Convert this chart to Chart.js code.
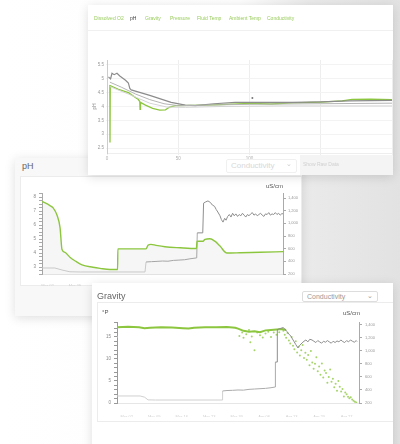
<!DOCTYPE html>
<html>
<head>
<meta charset="utf-8">
<script src="https://cdn.jsdelivr.net/npm/chart.js"></script>
<style>
html, body { margin: 0; padding: 0; }
body {
    width: 400px; height: 444px; overflow: hidden; position: relative;
    background: linear-gradient(90deg, #ffffff 0%, #fdfdfd 60%, #eaeaea 77%, #e2e2e2 100%);
    font-family: "Liberation Sans", Arial, sans-serif;
}
.card { position: absolute; background: #fff; overflow: hidden; box-shadow: 0 2px 10px rgba(0,0,0,0.13); }
#card1 { left: 88px; top: 5px; width: 305px; height: 170px; z-index: 2; }
#card2 { left: 15px; top: 158px; width: 287px; height: 158px; z-index: 1; background: #f8f8f8; }
#card3 { left: 92px; top: 283px; width: 301px; height: 170px; z-index: 3; }
canvas { position: absolute; }
.tabs { position: absolute; left: 0; top: 0; width: 305px; height: 25px; border-bottom: 1px solid #f0f0f0; }
.tabs span { position: absolute; top: 10px; font-size: 5px; color: #9acd5e; white-space: nowrap; }
.tabs span.on { color: #444; }
.title { position: absolute; font-size: 9px; color: #666; }
.box { position: absolute; background: #fff; border: 1px solid #ececec; }
.unit { position: absolute; font-size: 6px; color: #555; text-align: right; width: 30px; }
.sel { position: absolute; border: 1px solid #ddd; border-radius: 2px; font-size: 7px; color: #999; box-sizing: border-box; padding: 1px 4px; background: #fff; }
.sel b { position: absolute; right: 4px; top: 0; font-weight: normal; font-size: 7px; }
</style>
</head>
<body>

<div class="card" id="card2">
    <div class="title" style="left:7px;top:3px;">pH</div>
    <div class="box" style="left:5px;top:18px;width:280px;height:108px;"></div>
    <canvas id="ph" width="287" height="110" style="left:0;top:18px;"></canvas>
    <div class="unit" style="left:238px;top:25px;">uS/cm</div>
</div>

<div class="card" id="card1">
    <div class="tabs">
        <span style="left:6px;">Dissolved O2</span>
        <span class="on" style="left:42px;">pH</span>
        <span style="left:57px;">Gravity</span>
        <span style="left:82px;">Pressure</span>
        <span style="left:109px;">Fluid Temp</span>
        <span style="left:141px;">Ambient Temp</span>
        <span style="left:179px;">Conductivity</span>
    </div>
    <canvas id="top" width="330" height="125" style="left:0;top:35px;"></canvas>
    <div class="sel" style="left:138px;top:154px;width:71px;height:14px;color:#d8d8d8;border-color:#f0f0f0;font-size:8px;">Conductivity<b style="color:#ccc;">&#8964;</b></div>
    <div style="position:absolute;left:212px;top:150px;width:93px;height:20px;background:#f4f4f4;"></div>
    <div style="position:absolute;left:215px;top:156px;font-size:5px;color:#d0d0d0;">Show Raw Data</div>
</div>

<div class="card" id="card3">
    <div class="title" style="left:5px;top:8px;">Gravity</div>
    <div class="sel" style="left:210px;top:8px;width:76px;height:11px;">Conductivity<b>&#8964;</b></div>
    <div class="box" style="left:5px;top:19px;width:295px;height:118px;"></div>
    <canvas id="grav" width="301" height="112" style="left:0;top:22px;"></canvas>
    <div class="unit" style="left:10px;top:26px;text-align:left;">°P</div>
    <div class="unit" style="left:238px;top:27px;">uS/cm</div>
</div>

<script>
// ---- top card: pH overview ----
const topXTicks = [0, 50, 100, 150, 200];
const topYTicks = [2.5, 3, 3.5, 4, 4.5, 5, 5.5];
const topGreenX = [2, 2.1, 2.3, 8, 15, 22, 23, 23.2, 23.5, 27, 32, 37, 41, 44, 48, 60, 80, 100, 115, 130, 150, 165, 172, 185, 200];
const topGreenY = [4.78, 2.7, 4.75, 4.62, 4.5, 4.25, 4.18, 3.9, 4.15, 4.05, 3.93, 3.87, 3.88, 3.98, 4.03, 4.04, 4.07, 4.11, 4.09, 4.13, 4.16, 4.2, 4.26, 4.27, 4.25];
const topDarkX = [1, 2.5, 3.5, 5, 7, 9, 13, 15, 16, 17, 30, 45, 55, 62, 75, 90, 110, 130, 150, 170, 200];
const topDarkY = [5.07, 5.0, 5.2, 5.15, 5.2, 5.1, 4.95, 4.85, 4.65, 4.6, 4.4, 4.15, 4.05, 4.03, 4.1, 4.15, 4.15, 4.15, 4.17, 4.2, 4.22];
const topMidX = [2, 10, 20, 30, 40, 50, 70, 100, 150, 200];
const topMidY = [4.88, 4.7, 4.45, 4.25, 4.1, 4.03, 4.05, 4.08, 4.1, 4.12];
const topLightX = [2, 15, 30, 42, 55, 80, 120, 200];
const topLightY = [4.72, 4.45, 4.12, 3.98, 3.97, 4.0, 4.02, 4.02];
const topMarkX = [102];
const topMarkY = [4.31];

// ---- pH card ----
const phDates = ['Mar 02', 'Mar 09', 'Mar 16', 'Mar 23', 'Mar 30', 'Apr 06', 'Apr 13', 'Apr 20', 'Apr 27'];
const phXTicks = [2, 12, 22, 32, 42, 52, 62, 72, 82];
const phX = [0, 2.9, 4.0, 5.5, 6.6, 7.3, 8.4, 10.2, 12.4, 14.6, 18.6, 21.2, 24.8, 27.6, 27.7, 38.0, 38.7, 39.8, 41.6, 44.9, 50.4, 56.4, 56.6, 58.8, 59.5, 61.3, 63.1, 65.0, 67.5, 72.3, 79.6, 88];
const phY = [7.7, 7.4, 7.25, 6.7, 5.8, 4.25, 4.05, 3.7, 3.4, 3.15, 2.98, 2.9, 2.82, 2.82, 4.3, 4.3, 4.55, 4.62, 4.55, 4.45, 4.38, 4.33, 4.85, 4.85, 4.98, 5.02, 4.85, 4.5, 4.0, 4.02, 4.06, 4.1];
const condAX = [0, 4.7, 7.3, 10.2, 14, 37.6, 38.0, 40, 42, 44, 46, 48, 50, 52, 54, 56.5, 56.7, 58.7, 59.0, 59.8, 60.6, 61.5, 62.2, 63, 63.6, 64.2, 65, 65.5, 66.1, 66.7, 67.2, 67.8, 68.4, 69, 69.6, 70.2, 70.8, 71.4, 72, 72.6, 73.2, 73.8, 74.4, 75, 75.6, 76.2, 76.8, 77.4, 78, 78.6, 79.2, 79.8, 80.4, 81, 81.6, 82.2, 82.8, 83.4, 84, 84.6, 85.2, 85.8, 86.4, 87, 87.6, 88];
const condAY = [295, 295, 263, 235, 232, 232, 390, 395, 400, 405, 402, 415, 420, 425, 440, 455, 850, 850, 1320, 1340, 1355, 1330, 1290, 1270, 1220, 1180, 1120, 1060, 1020, 1080, 1050, 1110, 1140, 1100, 1160, 1120, 1150, 1110, 1140, 1120, 1160, 1130, 1100, 1140, 1120, 1150, 1170, 1130, 1150, 1120, 1140, 1160, 1130, 1110, 1150, 1140, 1170, 1130, 1150, 1140, 1170, 1140, 1160, 1130, 1155, 1150];

// ---- gravity card ----
const gravDates = ['Mar 02', 'Mar 09', 'Mar 16', 'Mar 23', 'Mar 30', 'Apr 06', 'Apr 13', 'Apr 20', 'Apr 27'];
const gravXTicks = [3.5, 13.5, 23.5, 33.5, 43.5, 53.5, 63.5, 73.5, 83.5];
const gravLineX = [0, 4, 8, 10, 12, 16, 20, 24, 26, 28, 32, 36, 40, 43, 44, 46, 48, 50, 52, 54, 56, 58, 60, 61.5];
const gravLineY = [17.2, 17.3, 17.2, 17.0, 17.1, 17.2, 17.15, 17.0, 16.9, 17.1, 17.2, 17.2, 17.25, 17.1, 16.9, 16.4, 16.2, 16.3, 16.1, 16.5, 16.6, 16.7, 16.8, 16.6];
const gravPtsX = [0, 44.5, 45.5, 46, 47, 48, 48.5, 49, 50, 51, 52, 53, 54, 55, 56, 57, 58, 59,
    60.5, 61, 61.5, 62, 62.5, 63, 63.5, 64, 64.5, 65, 65.5, 66, 66.5, 67, 67.5, 68, 68.5, 69, 69.5, 70, 70.5, 71, 71.5, 72, 72.5, 73, 73.5, 74, 74.5, 75, 75.5, 76, 76.5, 77, 77.5, 78, 78.5, 79, 79.5, 80, 80.5, 81, 81.5, 82, 82.5, 83, 83.5, 84, 84.5, 85, 85.5, 86, 86.5, 87];
const gravPtsY = [15, 15.2, 16.0, 14.8, 15.6, 16.6, 13.8, 15.1, 12.0, 16.0, 15.4, 14.9, 15.8, 16.2, 15.0, 16.0, 15.5, 16.1,
    16.4, 15.5, 14.8, 15.9, 14.2, 13.5, 15.0, 13.0, 12.2, 14.0, 11.5, 12.8, 10.8, 12.0, 13.2, 10.2, 11.4, 9.8, 10.9, 8.6, 11.8, 9.2, 7.8, 8.9, 10.4, 7.2, 8.3, 6.4, 9.0, 5.8, 7.4, 6.8, 4.6, 5.9, 7.6, 4.8, 5.5, 3.6, 4.4, 2.8, 5.0, 3.7, 2.6, 3.2, 1.5, 2.4, 2.0, 1.4, 1.1, 1.3, 0.8, 0.5, 0.3, 0.1];
const condBX = [0, 8.4, 10, 11.3, 14, 38.2, 38.4, 40, 42, 44, 46, 48, 50, 52, 54, 56, 57.5, 57.6, 58.2, 58.3, 59.3, 60.4, 61, 61.8, 62.5, 63.2, 63.6, 64.3, 65, 65.8, 66.5, 67.3, 68, 68.7, 69.4, 70.1, 70.9, 71.6, 72.3, 73, 73.7, 74.4, 75.1, 75.8, 76.5, 77.2, 77.9, 78.6, 79.3, 80, 80.7, 81.4, 82.1, 82.8, 83.5, 84.2, 84.9, 85.6, 86.3, 87, 87.3];
const condBY = [308, 308, 290, 248, 246, 246, 385, 392, 395, 400, 398, 410, 415, 420, 425, 435, 446, 830, 830, 1330, 1345, 1360, 1340, 1300, 1260, 1230, 1200, 1150, 1100, 1047, 1090, 1124, 1150, 1170, 1140, 1180, 1170, 1150, 1130, 1160, 1140, 1120, 1150, 1135, 1160, 1140, 1120, 1150, 1130, 1155, 1140, 1170, 1145, 1130, 1160, 1140, 1170, 1150, 1135, 1160, 1145];
const condTicks = [200, 400, 600, 800, 1000, 1200, 1400];

const GREEN = '#8cc63e';

function pts(xs, ys) {
    return xs.map((x, i) => ({ x: x, y: ys[i] }));
}

function condColor(ctx) {
    const v = ctx.p0.parsed.y;
    if (v < 350) return '#d0d0d0';
    if (v < 700) return '#ababab';
    return '#8e8e8e';
}

Chart.defaults.font.family = '"Liberation Sans", Arial, sans-serif';
Chart.defaults.animation = false;
Chart.defaults.plugins.legend.display = false;
Chart.defaults.plugins.tooltip.enabled = false;

const small = { size: 4.5 };

// top chart
new Chart(document.getElementById('top'), {
    type: 'line',
    data: {
        datasets: [
            { data: pts(topLightX, topLightY), borderColor: '#d4d4d4', borderWidth: 1, pointRadius: 0 },
            { data: pts(topMidX, topMidY), borderColor: '#b5b5b5', borderWidth: 1, pointRadius: 0 },
            { data: pts(topDarkX, topDarkY), borderColor: '#8c8c8c', borderWidth: 1.2, pointRadius: 0 },
            { data: pts(topGreenX, topGreenY), borderColor: GREEN, borderWidth: 1.3, pointRadius: 0 },
            { data: pts(topMarkX, topMarkY), showLine: false, pointRadius: 1, backgroundColor: '#777', borderWidth: 0 }
        ]
    },
    options: {
        responsive: false,
        layout: { padding: { top: 20, right: 26, left: 0, bottom: 0 } },
        scales: {
            x: {
                type: 'linear', min: 0, max: 200,
                afterBuildTicks: s => { s.ticks = topXTicks.map(v => ({ value: v })); },
                afterFit: s => { s.height = 12; },
                ticks: { font: small, color: '#b0b0b0', padding: 1, maxRotation: 0, autoSkip: false },
                grid: { color: '#eeeeee', tickLength: 2 },
                border: { color: '#eeeeee' }
            },
            y: {
                min: 2.32, max: 5.68,
                afterBuildTicks: s => { s.ticks = topYTicks.map(v => ({ value: v })); },
                afterFit: s => { s.width = 19; },
                ticks: { font: small, color: '#999', padding: 2, autoSkip: false, callback: v => String(v) },
                grid: { color: '#f3f3f3', tickLength: 1 },
                border: { color: '#cccccc' },
                title: { display: true, text: 'pH', font: { size: 4.5 }, color: '#888', padding: { top: 4, bottom: 0 } }
            }
        }
    }
});

// pH chart
new Chart(document.getElementById('ph'), {
    type: 'line',
    data: {
        datasets: [
            {
                data: pts(phX, phY), yAxisID: 'y', borderColor: GREEN, borderWidth: 1.4, pointRadius: 0,
                fill: 'start', backgroundColor: 'rgba(0,0,0,0.035)', cubicInterpolationMode: 'monotone'
            },
            {
                data: pts(condAX, condAY), yAxisID: 'y1', borderColor: '#999', borderWidth: 1, pointRadius: 0,
                segment: { borderColor: condColor }
            }
        ]
    },
    options: {
        responsive: false,
        layout: { padding: { top: 17, right: 0, left: 0, bottom: 0 } },
        scales: {
            x: {
                type: 'linear', min: 0, max: 88,
                afterBuildTicks: s => { s.ticks = phXTicks.map(v => ({ value: v })); },
                afterFit: s => { s.height = 12; },
                ticks: { font: { size: 4 }, color: '#d0d0d0', padding: 1, maxRotation: 0, autoSkip: false, callback: (v, i) => phDates[i] },
                grid: { display: false },
                border: { color: '#e2e2e2' }
            },
            y: {
                position: 'left', min: 2.5, max: 8.3,
                ticks: { stepSize: 0.25, font: small, color: '#888', padding: 3, autoSkip: false,
                    callback: v => (Number.isInteger(v) && v >= 3) ? String(v) : '' },
                afterFit: s => { s.width = 27; },
                grid: { drawOnChartArea: false, color: '#aaa', tickLength: 3 },
                border: { color: '#aaa' }
            },
            y1: {
                position: 'right', min: 200, max: 1480,
                afterBuildTicks: s => { s.ticks = condTicks.map(v => ({ value: v })); },
                afterFit: s => { s.width = 19; },
                ticks: { font: { size: 4 }, color: '#999', padding: 2, autoSkip: false, callback: v => v.toLocaleString('en-US') },
                grid: { drawOnChartArea: false, color: '#aaa', tickLength: 3 },
                border: { color: '#aaa' }
            }
        }
    }
});

// gravity chart
new Chart(document.getElementById('grav'), {
    type: 'line',
    data: {
        datasets: [
            {
                data: pts(condBX, condBY), yAxisID: 'y1', borderColor: '#999', borderWidth: 1, pointRadius: 0,
                segment: { borderColor: condColor }
            },
            { data: pts(gravLineX, gravLineY), yAxisID: 'y', borderColor: GREEN, borderWidth: 2, pointRadius: 0 },
            {
                data: pts(gravPtsX, gravPtsY), yAxisID: 'y', showLine: false, pointRadius: 1,
                backgroundColor: '#a6d46a', borderWidth: 0
            }
        ]
    },
    options: {
        responsive: false,
        layout: { padding: { top: 17, right: 0, left: 0, bottom: 0 } },
        scales: {
            x: {
                type: 'linear', min: 0, max: 88,
                afterBuildTicks: s => { s.ticks = gravXTicks.map(v => ({ value: v })); },
                afterFit: s => { s.height = 14; },
                ticks: { font: { size: 4 }, color: '#d0d0d0', padding: 3, maxRotation: 0, autoSkip: false, callback: (v, i) => gravDates[i] },
                grid: { display: false },
                border: { color: '#e6e6e6' }
            },
            y: {
                position: 'left', min: 0, max: 18.4,
                ticks: { stepSize: 1, font: small, color: '#888', padding: 3, autoSkip: false,
                    callback: v => (v % 5 === 0) ? String(v) : '' },
                afterFit: s => { s.width = 25; },
                grid: { drawOnChartArea: false, color: '#999', tickLength: 3 },
                border: { color: '#999' }
            },
            y1: {
                position: 'right', min: 200, max: 1446,
                afterBuildTicks: s => { s.ticks = condTicks.map(v => ({ value: v })); },
                afterFit: s => { s.width = 34; },
                ticks: { font: { size: 4 }, color: '#999', padding: 3, autoSkip: false, callback: v => v.toLocaleString('en-US') },
                grid: { drawOnChartArea: false, color: '#aaa', tickLength: 3 },
                border: { color: '#aaa' }
            }
        }
    }
});
</script>
</body>
</html>
